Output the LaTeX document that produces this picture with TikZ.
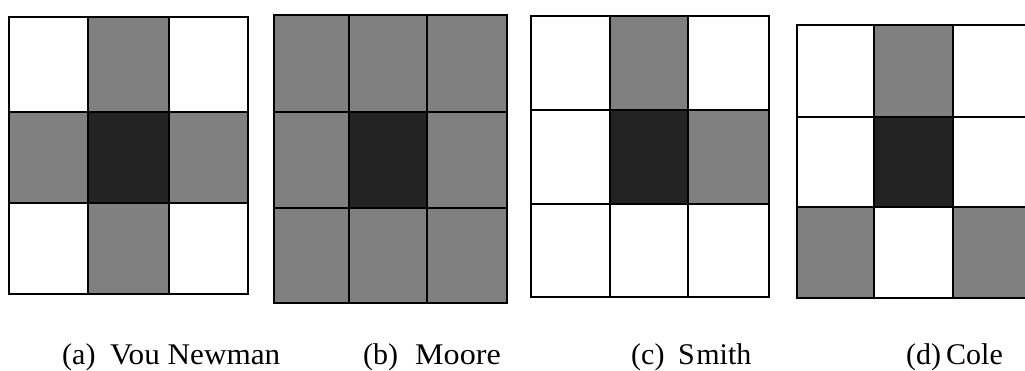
\documentclass[tikz,border=0pt]{standalone}
\usepackage{fontspec}
\setmainfont{Liberation Serif}
\definecolor{midgray}{HTML}{808080}
\definecolor{darkcell}{HTML}{232323}
\tikzset{
  gridline/.style={line width=2.6pt, line cap=rect, black},
  lbl/.style={anchor=base west, inner sep=0pt, font=\fontsize{30}{33}\selectfont},
}
% \cellfill{color}{x0}{y0}{x1}{y1} in pixel coordinates (y from top)
\newcommand\cellfill[5]{\fill[#1] (#2,371-#3) rectangle (#4,371-#5);}
\begin{document}
\begin{tikzpicture}[x=1pt,y=1pt]
\useasboundingbox (0,0) rectangle (1025,371);
\fill[white] (0,0) rectangle (1025,371);
% ---------- (a) Von Neumann ----------
\cellfill{midgray}{88}{17}{169}{112}
\cellfill{midgray}{9}{112}{88}{203}
\cellfill{darkcell}{88}{112}{169}{203}
\cellfill{midgray}{169}{112}{248}{203}
\cellfill{midgray}{88}{203}{169}{294}
\draw[gridline] (9,371-17) rectangle (248,371-294);
\draw[gridline] (88,371-17) -- (88,371-294) (169,371-17) -- (169,371-294)
  (9,371-112) -- (248,371-112) (9,371-203) -- (248,371-203);
% ---------- (b) Moore ----------
\cellfill{midgray}{274}{15}{507}{303}
\cellfill{darkcell}{349}{112}{427}{208}
\draw[gridline] (274,371-15) rectangle (507,371-303);
\draw[gridline] (349,371-15) -- (349,371-303) (427,371-15) -- (427,371-303)
  (274,371-112) -- (507,371-112) (274,371-208) -- (507,371-208);
% ---------- (c) Smith ----------
\cellfill{midgray}{610}{16}{688}{110}
\cellfill{darkcell}{610}{110}{688}{204}
\cellfill{midgray}{688}{110}{769}{204}
\draw[gridline] (531,371-16) rectangle (769,371-297);
\draw[gridline] (610,371-16) -- (610,371-297) (688,371-16) -- (688,371-297)
  (531,371-110) -- (769,371-110) (531,371-204) -- (769,371-204);
% ---------- (d) Cole ----------
\begin{scope}
\clip (0,0) rectangle (1025,371);
\cellfill{midgray}{874}{25}{953}{117}
\cellfill{darkcell}{874}{117}{953}{207}
\cellfill{midgray}{797}{207}{874}{298}
\cellfill{midgray}{953}{207}{1031}{298}
\draw[gridline] (797,371-25) rectangle (1031,371-298);
\draw[gridline] (874,371-25) -- (874,371-298) (953,371-25) -- (953,371-298)
  (797,371-117) -- (1031,371-117) (797,371-207) -- (1031,371-207);
\end{scope}
% ---------- labels ----------
\node[lbl] (la) at (62,6) {(a)};
\node[lbl] (na) at (110,6) {\scalebox{1.04}[1]{Vou Newman}};
\node[lbl] (lb) at (363,6) {(b)};
\node[lbl] (nb) at (415,6) {\scalebox{1.07}[1]{Moore}};
\node[lbl] (lc) at (631,6) {(c)};
\node[lbl] (nc) at (678,6) {S\kern1.5pt mith};
\node[lbl] (ld) at (906,6) {(d)};
\node[lbl] (nd) at (946,6) {Cole};
\end{tikzpicture}
\end{document}
